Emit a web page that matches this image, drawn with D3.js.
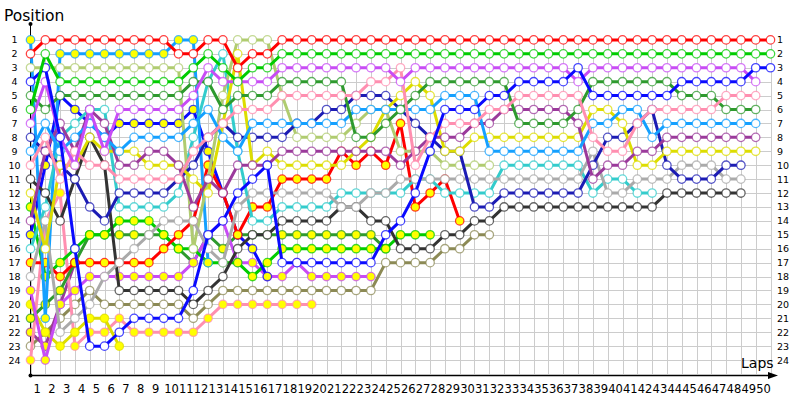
<!DOCTYPE html>
<html><head><meta charset="utf-8">
<script src="https://cdn.jsdelivr.net/npm/d3@7"></script>
<style>body{margin:0;background:#fff;} svg text{font-family:"DejaVu Sans",Verdana,sans-serif;}</style>
</head><body><svg id="c" width="800" height="400"></svg>
<script>
const lapTicks = d3.range(1, 51);
const posTicks = d3.range(1, 25);
const RED_H = [2,1,1,1,1,1,1,1,1,1, 2,2,1,1,3,2,2,1,1,1, 1,1,1,1,1,1,1,1,1,1, 1,1,1,1,1,1,1,1,1,1, 1,1,1,1,1,1,1,1,1,1, 1];
const GREEN_H = [6,2,4,4,4,4,4,4,4,4, 4,3,2,3,4,3,3,2,2,2, 2,2,2,2,2,2,2,2,2,2, 2,2,2,2,2,2,2,2,2,2, 2,2,2,2,2,2,2,2,2,2, 2];
const LGREEN_H = [3,3,3,3,3,3,3,3,3,3, 3,16,11,5,1,1,1,5,8,8, 8,8,7,6,6,9,9,9,10,10, 10,10];
const BLUE_H = [4,3,8,16,23,23,22,21,21,21, 21,19,15,14,12,11,10,17,17,17, 17,17,17,17,15,14,12,9,6,6, 6,5,5,4,4,4,4,3,5,5, 5,5,5,5,4,4,4,4,4,3, 3];
const DKGREEN_H = [5,6,5,5,5,5,5,5,5,5, 5,4,4,6,5,5,5,4,4,4, 4,4,8,8,7,6,5,4,4,4, 4,4,4,7,7,7,7,6,4,4, 4,4,4,4,5,5,5,6,6,6];
const VIOLET_H = [7,4,8,10,6,9,6,6,6,6, 6,5,3,4,4,4,4,3,3,3, 3,3,3,3,3,4,3,3,3,3, 3,3,3,3,3,3,3,4,3,3, 3,3,3,3,3,3,3,3,3,4];
const PINK_H = [10,8,11,9,10,10,11,11,11,11, 11,9,8,7,6,6,6,5,5,5, 5,5,5,4,4,3,10,8,7,7, 7,6,6,5,5,5,5,5,8,9, 9,7,6,6,6,6,6,5,5,5];
const LBLUE_H = [9,7,9,8,7,8,9,8,8,8, 8,7,6,8,9,7,7,7,7,7, 7,7,6,6,6,6,6,6,5,5, 5,9,9,9,9,9,9,9,7,7, 6,6,8,7,7,7,7,7,7,7];
const PURPLE_H = [14,9,7,9,6,7,10,10,9,9, 10,13,11,12,10,10,10,9,9,9, 9,9,9,9,9,10,9,8,8,8, 7,7,6,6,6,6,6,7,11,10, 10,9,9,8,8,8,8,8,8,8];
const YELLOW_H = [12,16,10,10,8,9,9,9,10,10, 10,11,12,7,2,10,9,10,10,10, 10,10,9,8,6,5,4,5,9,9, 8,8,8,8,8,8,8,8,6,6, 7,10,10,9,9,9,9,9,9,9];
const NAVY_H = [8,9,10,11,13,14,12,12,12,12, 11,10,8,7,8,8,8,8,7,7, 6,6,5,5,5,6,7,8,9,9, 13,13,12,12,12,12,12,12,10,8, 8,7,6,10,11,11,11,10,10];
const GRAY_H = [18,14,22,21,20,18,17,16,15,14, 14,14,16,17,13,12,12,12,12,12, 12,13,13,12,12,11,11,11,11,11, 11,11,11,11,11,11,11,11,9,12, 12,11,11,11,10,10,10,11,11];
const DKGRAY_H = [11,12,14,11,8,10,19,19,19,19, 19,20,19,18,16,15,15,14,14,14, 14,13,13,14,14,16,16,16,15,15, 14,14,13,13,13,13,13,13,13,13, 13,13,13,12,12,12,12,12,12];
const CYAN_H = [16,13,8,7,6,6,13,13,13,13, 12,8,4,2,9,14,14,13,13,13, 13,12,12,12,12,12,11,11,12,12, 12,12,10,10,10,10,10,10,12,11, 11,12,12];
const OLIVE_H = [23,22,21,20,19,20,20,20,20,20, 20,21,20,19,19,19,19,19,19,19, 19,19,19,19,17,17,17,17,16,16, 15,15];
const LBLUE_F = [1,21,2,2,2,2,2,2,2,2, 1,1,17];
const RED_F = [17,17,18,17,17,17,17,17,17,16, 15,14,10,12,15,13,13,11,11,11, 11,9,10,9,10,7,13,12,11,14];
const BLUE_F = [15,10,5,6,7,8,7,7,7,7, 7,6,9,12,15,16,18];
const GREEN_F = [13,18,17,16,15,15,14,14,14,15, 16,16,17,17,17,18,17,16,16,16, 16,16,16,16,16,15,15,15];
const DKGREEN_F = [21,20,19,17,15,15,15,15,15,15, 16,17,15,16,15,15,15,15,15,15, 15,15,15,15,16];
const VIOLET_F = [19,24,20,19,18,18,18,18,18,18, 18,17,15,14,17,17,18,18,17,18, 18,18,18,18];
const YELLOW_F = [20,22,23,22,21,21,23];
const PINK_F = [24,14,12,23,22,22,21,22,22,22, 22,22,21,20,20,20,20,20,20,20];
const PURPLE_F = [22,23,20,17];

const series = [
  {v: OLIVE_H, c: "#8c8a55", f: "#fff"},
  {v: PURPLE_F, c: "#9b3a9b", f: "#ffff00"},
  {v: PINK_F, c: "#ff8fb0", f: "#ffff00"},
  {v: YELLOW_F, c: "#dddd00", f: "#ffff00"},
  {v: DKGREEN_F, c: "#2e9a2e", f: "#ffff00"},
  {v: VIOLET_F, c: "#c84cf5", f: "#ffff00"},
  {v: GREEN_F, c: "#00cc00", f: "#ffff00"},
  {v: BLUE_F, c: "#0a0aff", f: "#ffff00"},
  {v: RED_F, c: "#ff0000", f: "#ffff00"},
  {v: LBLUE_F, c: "#14a0ff", f: "#ffff00"},
  {v: CYAN_H, c: "#33cccc", f: "#fff"},
  {v: LGREEN_H, c: "#b0cc70", f: "#fff"},
  {v: DKGRAY_H, c: "#333333", f: "#fff"},
  {v: GRAY_H, c: "#aaaaaa", f: "#fff"},
  {v: NAVY_H, c: "#1c1cb4", f: "#fff"},
  {v: YELLOW_H, c: "#dddd00", f: "#fff"},
  {v: PURPLE_H, c: "#9b3a9b", f: "#fff"},
  {v: LBLUE_H, c: "#14a0ff", f: "#fff"},
  {v: DKGREEN_H, c: "#2e9a2e", f: "#fff"},
  {v: PINK_H, c: "#ff8fb0", f: "#fff"},
  {v: VIOLET_H, c: "#c84cf5", f: "#fff"},
  {v: BLUE_H, c: "#0a0aff", f: "#fff"},
  {v: GREEN_H, c: "#00cc00", f: "#fff"},
  {v: RED_H, c: "#ff0000", f: "#fff"}
];

const svg = d3.select("#c");
const x = d3.scaleLinear().domain([0, 50]).range([30.5, 770.5]);
const y = d3.scaleLinear().domain([0, 25]).range([26, 374]);

const g = svg.append("g").attr("stroke", "#cccccc").attr("stroke-width", 1).attr("shape-rendering", "crispEdges");
g.selectAll(".v").data(d3.range(0, 51)).join("line")
  .attr("x1", d => Math.round(x(d)) + 0.5).attr("x2", d => Math.round(x(d)) + 0.5)
  .attr("y1", y(1)).attr("y2", y(25));
g.selectAll(".h").data(posTicks).join("line")
  .attr("x1", x(0)).attr("x2", x(50))
  .attr("y1", d => Math.round(y(d)) + 0.5).attr("y2", d => Math.round(y(d)) + 0.5);

const ax = svg.append("g").attr("stroke", "#000");
ax.append("line").attr("x1", 30.5).attr("x2", 30.5).attr("y1", 24).attr("y2", 375.5);
ax.append("line").attr("x1", 30).attr("x2", 772).attr("y1", 375.5).attr("y2", 375.5).attr("stroke-width", 1.5);
svg.append("circle").attr("cx", 30.5).attr("cy", 24).attr("r", 2).attr("fill", "#000");
svg.append("circle").attr("cx", 30.5).attr("cy", 375.5).attr("r", 2).attr("fill", "#000");
svg.append("path").attr("d", "M768,372 L778,375.5 L768,379 Z").attr("fill", "#000");

const line = d3.line().defined(d => d != null).x((d, i) => x(i)).y(d => y(d));
series.forEach(s => {
  const gs = svg.append("g");
  gs.append("path").attr("d", line(s.v)).attr("fill", "none").attr("stroke", s.c)
    .attr("stroke-width", 3).attr("stroke-linejoin", "round");
  gs.selectAll("circle").data(s.v.map((d, i) => ({d, i})).filter(o => o.d != null)).join("circle")
    .attr("cx", o => x(o.i)).attr("cy", o => y(o.d)).attr("r", 4.2)
    .attr("fill", s.f).attr("stroke", s.c).attr("stroke-width", 1.3).attr("stroke-opacity", 0.75);
});

svg.append("g").selectAll("text").data(posTicks).join("text")
  .attr("x", 14.5).attr("y", d => y(d) + 3.5).attr("text-anchor", "middle")
  .attr("font-size", 9.5).attr("fill", "#000").text(d => d);
svg.append("g").selectAll("text").data(posTicks).join("text")
  .attr("x", 777).attr("y", d => y(d) + 3.5).attr("text-anchor", "start")
  .attr("font-size", 9.5).attr("fill", "#000").text(d => d);
svg.append("g").selectAll("text").data(lapTicks).join("text")
  .attr("x", (d, i) => x(i) + (d < 10 ? 3 : 0.5)).attr("y", 393).attr("text-anchor", "start")
  .attr("font-size", 11.5).attr("fill", "#000").text(d => d);
svg.append("text").attr("x", 4).attr("y", 21).attr("font-size", 15.5).attr("fill", "#000").text("Position");
svg.append("text").attr("x", 741).attr("y", 368).attr("font-size", 14).attr("fill", "#000").text("Laps");
</script></body></html>
